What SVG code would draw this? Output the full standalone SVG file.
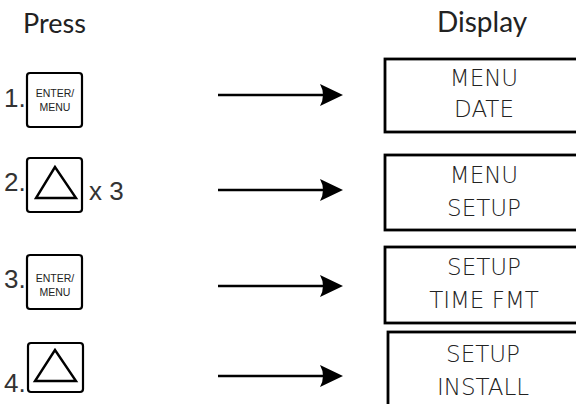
<svg xmlns="http://www.w3.org/2000/svg" width="576" height="404" viewBox="0 0 576 404">
<style>
.hdr{font-family:"Lato","Open Sans",sans-serif;font-size:27px;fill:#222}
.num{font-family:"Liberation Sans",Arial,sans-serif;font-size:26px;fill:#333}
.key{fill:#fff;stroke:#000;stroke-width:2.2}
.ktxt{font-family:"Liberation Sans",Arial,sans-serif;font-size:10.5px;fill:#222;text-anchor:middle}
.tri{fill:none;stroke:#000;stroke-width:2.4;stroke-linejoin:miter}
.disp{fill:#fff;stroke:#000;stroke-width:2.8}
.dtxt{font-family:"DejaVu Sans",sans-serif;font-weight:200;font-size:23px;fill:#222;text-anchor:middle}
.arr{stroke:#000;stroke-width:2.6;fill:none}
</style>
<defs>
<marker id="ah" markerUnits="userSpaceOnUse" viewBox="0 0 23 22" refX="10" refY="11" markerWidth="23" markerHeight="22" orient="auto">
<path d="M23,11 L0,0 Q6,11 0,22 Z" fill="#000"/>
</marker>
</defs>
<text class="hdr" x="23" y="33">Press</text>
<text class="hdr" x="437" y="32" style="font-size:28px">Display</text>

<g id="step1">
<text class="num" x="4" y="107">1.</text>
<rect class="key" x="27" y="73" width="55" height="54" rx="3"/>
<text class="ktxt" x="55" y="97">ENTER/</text>
<text class="ktxt" x="55" y="111">MENU</text>
</g>
<g id="step2">
<text class="num" x="4" y="191">2.</text>
<rect class="key" x="27" y="158" width="55" height="54" rx="3"/>
<path class="tri" d="M55,167 L36,198 L76,198 Z"/>
<text class="num" x="89" y="200">x 3</text>
</g>
<g id="step3">
<text class="num" x="4" y="288">3.</text>
<rect class="key" x="27" y="255" width="55" height="54" rx="3"/>
<text class="ktxt" x="55" y="282">ENTER/</text>
<text class="ktxt" x="55" y="296">MENU</text>
</g>
<g id="step4">
<text class="num" x="4" y="392">4.</text>
<rect class="key" x="28" y="343" width="55" height="49" rx="3"/>
<path class="tri" d="M55,350 L35,381 L76,381 Z"/>
</g>

<g id="display1">
<rect class="disp" x="385" y="59" width="200" height="73"/>
<text class="dtxt" x="484" y="86">MENU</text>
<text class="dtxt" x="484" y="117">DATE</text>
</g>
<g id="display2">
<rect class="disp" x="385" y="155" width="200" height="75"/>
<text class="dtxt" x="484" y="183">MENU</text>
<text class="dtxt" x="484" y="216">SETUP</text>
</g>
<g id="display3">
<rect class="disp" x="385" y="247" width="200" height="76"/>
<text class="dtxt" x="484" y="275">SETUP</text>
<text class="dtxt" x="484" y="308">TIME FMT</text>
</g>
<g id="display4">
<rect class="disp" x="388" y="332" width="200" height="90"/>
<text class="dtxt" x="483" y="362">SETUP</text>
<text class="dtxt" x="483" y="395">INSTALL</text>
</g>

<g id="connectors">
<line class="arr" x1="218" y1="95" x2="330" y2="95" marker-end="url(#ah)"/>
<line class="arr" x1="218" y1="190" x2="330" y2="190" marker-end="url(#ah)"/>
<line class="arr" x1="218" y1="286" x2="330" y2="286" marker-end="url(#ah)"/>
<line class="arr" x1="218" y1="376" x2="330" y2="376" marker-end="url(#ah)"/>
</g>
</svg>
